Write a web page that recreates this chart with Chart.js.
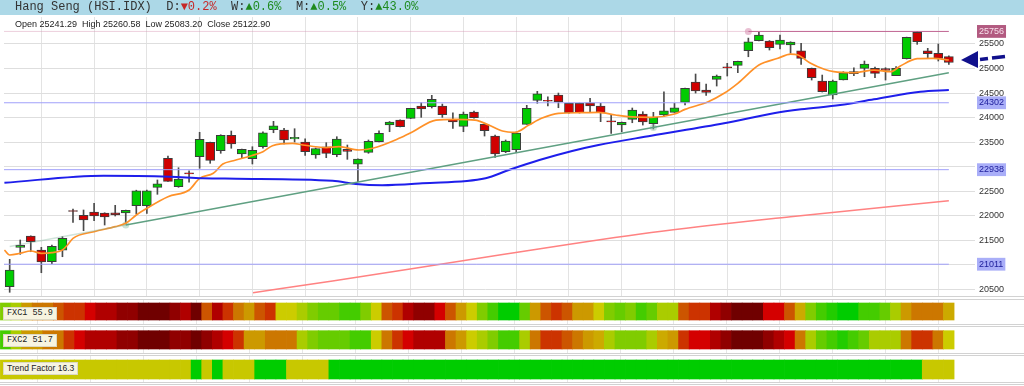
<!DOCTYPE html>
<html><head><meta charset="utf-8">
<script src="https://cdn.jsdelivr.net/npm/chart.js@4.4.1/dist/chart.umd.min.js"></script>
<style>
html,body{margin:0;padding:0;background:#fff;width:1024px;height:386px;overflow:hidden;}
#wrap{position:relative;width:1024px;height:386px;}
canvas{position:absolute;left:0;}
.hdr{position:absolute;left:0;top:0;width:1024px;height:15px;background:#acd8e7;}
.hdr .t{position:absolute;left:15px;top:0;font-family:"Liberation Mono","DejaVu Sans Mono",monospace;font-size:12px;line-height:15px;color:#333;white-space:pre;}
.dn{color:#c62828;}
.up{color:#1e8a1e;}
.ohlc{position:absolute;left:15px;top:18px;font-family:"Liberation Sans",Arial,sans-serif;font-size:9px;line-height:12px;color:#222;white-space:pre;}
.hl{position:absolute;left:0;width:1024px;height:1px;background:#d2d2d2;}
.lab{position:absolute;left:3px;height:11px;line-height:11px;padding:0 3px;background:#f7f4e0;border:1px solid #dcd8c4;color:#222;white-space:pre;font-size:8.5px;}
.mono{font-family:"Liberation Mono","DejaVu Sans Mono",monospace;}
.sans{font-family:"Liberation Sans",Arial,sans-serif;}
</style>
</head><body><div id="wrap">
<canvas id="main" width="1024" height="301" style="top:0;width:1024px;height:301px"></canvas>
<div class="hdr"><span class="t">Hang Seng (HSI.IDX)  D:<span class="dn">▼0.2%</span>  W:<span class="up">▲0.6%</span>  M:<span class="up">▲0.5%</span>  Y:<span class="up">▲43.0%</span></span></div>
<div class="ohlc">Open 25241.29  High 25260.58  Low 25083.20  Close 25122.90</div>
<canvas id="s1" width="1024" height="27" style="top:298px;width:1024px;height:27px;background:#fff"></canvas>
<canvas id="s2" width="1024" height="28" style="top:326px;width:1024px;height:28px"></canvas>
<canvas id="s3" width="1024" height="28" style="top:355px;width:1024px;height:28px"></canvas>
<div class="hl" style="top:296px"></div>
<div class="hl" style="top:299px"></div>
<div class="hl" style="top:324px"></div>
<div class="hl" style="top:326px"></div>
<div class="hl" style="top:353px"></div>
<div class="hl" style="top:355px"></div>
<div class="hl" style="top:382px"></div>
<div class="hl" style="top:384px"></div>
<div class="lab mono" style="top:307px">FXC1 55.9</div>
<div class="lab mono" style="top:334px">FXC2 51.7</div>
<div class="lab sans" style="top:362px">Trend Factor 16.3</div>
</div>
<script>
// ---------- DATA ----------
const candleOpen = [20553,21356,21586,21301,21063,21295,22105,22008,22075,22055,
22061,22055,22204,22204,22579,23170,22591,22874,23202,23496,
23325,23638,23257,23162,23406,23753,23747,23563,23502,23237,
23406,23243,23353,23048,23292,23508,23848,23950,23985,24236,
24222,24236,23965,23822,24113,23863,23624,23304,23345,23863,
24352,24354,24460,24291,24291,24303,24236,23934,23848,23965,
24073,23875,24052,24107,24311,24725,24562,24780,25034,25065,
25363,25566,25560,25493,25479,25363,25004,24745,24460,24766,
24894,25004,25004,25000,24853,25200,25740,25363,25310,25241.29];
const candleHigh = [21111,21505,21590,21356,21403,21572,22137,22116,22253,22060,
22212,22115,22520,22520,22728,23217,22978,22917,23700,23500,
23650,23726,23360,23406,23712,23924,23781,23773,23569,23380,
23488,23610,23441,23160,23543,23732,23920,23955,24190,24303,
24454,24276,24099,24113,24134,23870,23645,23543,23706,24250,
24535,24425,24500,24297,24297,24393,24291,24052,23910,24195,
24120,24107,24527,24291,24600,24888,24684,24868,25106,25150,
25620,25745,25570,25683,25545,25513,25010,24867,24765,24935,
25016,25153,25031,25016,25037,25640,25756,25412,25499,25260.58];
const candleLow = [20439,21213,21266,20838,21022,21164,21865,21694,21898,21810,
21994,21831,22035,22049,22436,22701,22579,22681,22966,23068,
23272,23374,23176,23054,23374,23691,23461,23502,23231,23170,
23182,23202,23149,22693,23272,23502,23712,23808,23980,24005,
24195,24005,23781,23712,23990,23624,23190,23284,23284,23863,
24291,24236,24201,24092,24092,24120,23916,23679,23712,23895,
23848,23767,24018,24107,24256,24500,24454,24643,24847,24915,
25240,25560,25377,25397,25310,25086,24765,24521,24378,24766,
24853,24833,24812,24765,24853,25193,25493,25208,25153,25083.20];
const candleClose = [20893,21397,21470,21056,21376,21539,22085,21912,21994,21973,
22014,22110,22509,22509,22652,22701,22748,22854,23557,23129,
23638,23461,23353,23333,23691,23834,23543,23598,23304,23366,
23272,23563,23312,23156,23516,23679,23910,23814,24189,24175,
24372,24058,23910,24073,23997,23732,23257,23522,23685,24189,
24486,24334,24317,24099,24099,24236,24099,23914,23903,24154,
23910,24005,24140,24201,24596,24541,24515,24847,25014,25147,
25546,25683,25424,25581,25540,25208,24812,24527,24745,24914,
24935,25092,24902,24960,25004,25636,25546,25302,25208,25122.90];

// short moving average (orange), read at candle positions
const fastMaIdx = [-0.5,0,1,2,3,4,5,5.4,6,8,10,11,12,13,15,17,18,19.3,20.2,21.2,22.9,24,24.9,26.8,27.8,29,30,31.2,33.1,34.4,36.9,38.2,40.4,42.2,44.1,45.4,46.7,47.9,49.2,50.4,52,54.2,55.8,57.4,58.6,60.8,63,64,66.2,67.7,69,71,72.8,74,74.7,75.9,77.2,78.1,80,81.9,83.5,84.4,86,87.5,89];
const fastMaVal = [21300,21199,21234,21281,21234,21246,21301,21382,21539,21674,21776,21845,22014,22151,22387,22524,22762,22864,23054,23121,23223,23304,23427,23475,23441,23406,23386,23406,23339,23374,23577,23712,23950,23965,23950,23848,23726,23700,23848,23985,24087,24099,24107,24052,24018,24005,24073,24168,24323,24494,24698,25071,25208,25295,25275,25106,24984,24935,24914,24969,24935,25051,25200,25208,25174];
// medium moving average (blue)
const midMaIdx = [-0.5,8.9,15.2,18.3,21.5,30.6,32.8,35.3,39.1,45.1,47.3,50.2,53.3,55.8,60.8,67.7,72.4,75,78.7,81.9,86.3,89];
const midMaVal = [22672,22815,22795,22762,22754,22713,22646,22620,22660,22762,22931,23135,23319,23441,23630,23883,24087,24168,24256,24372,24527,24562];
// long moving average (light red)
const slowMaIdx = [23.06,30.6,45.2,60.8,74,89];
const slowMaVal = [20431,20669,21158,21658,21980,22306];
// trend line (faint start, anchor, end)
const trendIdx = [0,11,89];
const trendVal = [21372,21810,24914];
const touchIdx = [11,61];
const touchVal = [21810,23800];
// horizontal levels
const levelValues = [24302,22938,21011];
const highLevel = 25756;
const highStartIdx = 70;
// axis ticks
const yTicks = [20500,21000,21500,22000,22500,23000,23500,24000,24500,25000,25500];
const hiddenTickLabels = [21000,23000];

// heat strips: colour level per candle (0 = weakest/red ... 15 = strongest/green)
const fxcPalette = ['#700000','#900000','#b00000','#d40000','#cc3300','#cc5500','#cc7700','#cc9900','#ccaa00','#cccc00','#aacc00','#80cc00','#66cc00','#44cc00','#22cc00','#00cc00'];
const fxc1Levels = [11,10,7,6,6,5,4,4,3,2,2,1,1,0,0,0,1,2,0,5,2,4,6,7,5,4,9,9,10,11,12,12,13,13,11,9,5,4,2,1,1,3,5,7,9,11,13,15,
15,12,7,5,4,5,7,7,9,11,12,11,13,12,10,10,5,4,4,2,1,0,0,0,3,3,5,8,11,13,14,15,15,13,13,12,10,7,6,6,6,8];
const fxc2Levels = [13,10,7,7,6,6,4,3,2,2,2,1,1,0,0,0,1,1,0,1,2,3,4,7,7,6,6,6,10,11,12,12,12,13,13,9,6,4,3,2,2,2,6,7,9,10,11,13,
13,10,6,4,4,5,6,7,8,10,11,11,11,10,8,7,4,3,3,2,1,0,0,0,1,2,3,6,10,12,13,14,13,12,10,10,10,6,4,4,6,9];
const trendPalette = ['#c8c800','#00cc00'];
const trendFactor = [0,0,0,0,0,0,0,0,0,0,0,0,0,0,0,0,0,0,1,0,1,0,0,0,1,1,1,0,0,0,0,
1,1,1,1,1,1,1,1,1,1,1,1,1,1,1,1,1,1,1,1,1,1,1,1,1,1,1,1,1,1,1,1,1,1,1,1,1,1,1,1,1,1,1,1,1,1,1,1,1,1,1,1,1,1,1,1,0,0,0];

// ---------- LAYOUT / STYLE ----------
const X_MIN = -0.538, X_MAX = 90.72;
const Y_MIN = 20343, Y_MAX = 26050;
const AXIS_W = 57;
const CELL_W = 10.65;
const lastIdx = candleClose.length - 1;
const gridIdx = [];
for (let k = 3; k <= lastIdx; k += 5) gridIdx.push(k);

function xScale(gridColor) {
  return {
    type: 'linear', min: X_MIN, max: X_MAX, offset: false,
    afterBuildTicks: s => { s.ticks = gridIdx.map(v => ({ value: v })); },
    afterFit: s => { s.height = 0; s.paddingLeft = 0; s.paddingRight = 0; },
    ticks: { display: false },
    grid: { color: gridColor, drawTicks: false, offset: false },
    border: { display: false }
  };
}
function fixV(s) { s.width = AXIS_W; s.paddingTop = 0; s.paddingBottom = 0; }

const pts = (ix, vs) => ix.map((x, i) => ({ x: x, y: vs[i] }));
const isUp = candleClose.map((c, i) => c >= candleOpen[i]);
const specialTicks = [highLevel].concat(levelValues);
const axisTicks = yTicks.concat(specialTicks).sort((a, b) => a - b);

const arrowPlugin = {
  id: 'arrow',
  afterDraw(chart) {
    const { ctx, chartArea } = chart;
    const y = chart.scales.y.getPixelForValue(fastMaVal[fastMaVal.length - 1]);
    const x0 = chartArea.right - 6;
    ctx.save();
    ctx.fillStyle = '#10108c';
    ctx.beginPath();
    ctx.moveTo(x0, y);
    ctx.lineTo(x0 + 17, y - 9);
    ctx.lineTo(x0 + 17, y + 8);
    ctx.closePath();
    ctx.fill();
    ctx.strokeStyle = '#10108c';
    ctx.lineWidth = 3.5;
    ctx.beginPath();
    ctx.moveTo(x0 + 19, y - 0.5);
    ctx.lineTo(x0 + 27, y - 1.5);
    ctx.moveTo(x0 + 31, y - 2);
    ctx.lineTo(x0 + 44, y - 3.5);
    ctx.stroke();
    ctx.restore();
  }
};

const lineBase = { type: 'line', pointRadius: 0, fill: false, order: 0 };

new Chart(document.getElementById('main'), {
  type: 'bar',
  data: {
    datasets: [
      Object.assign({}, lineBase, { data: [{x: X_MIN, y: highLevel}, {x: highStartIdx, y: highLevel}], borderColor: 'rgba(215,150,180,0.45)', borderWidth: 1 }),
      Object.assign({}, lineBase, { data: [{x: highStartIdx, y: highLevel}, {x: lastIdx, y: highLevel}], borderColor: 'rgb(192,100,145)', borderWidth: 1 }),
      ...levelValues.map(v => Object.assign({}, lineBase, { data: [{x: X_MIN, y: v}, {x: lastIdx, y: v}], borderColor: 'rgb(160,160,250)', borderWidth: 1 })),
      Object.assign({}, lineBase, { data: pts(slowMaIdx, slowMaVal), borderColor: 'rgb(255,130,130)', borderWidth: 1.6, cubicInterpolationMode: 'monotone' }),
      Object.assign({}, lineBase, { data: pts(trendIdx, trendVal), borderWidth: 1.6,
        borderColor: 'rgb(95,160,130)',
        segment: { borderColor: c => c.p0DataIndex === 0 ? 'rgba(120,175,150,0.35)' : 'rgb(95,160,130)' } }),
      Object.assign({}, lineBase, { data: pts(midMaIdx, midMaVal), borderColor: 'rgb(30,30,235)', borderWidth: 2, cubicInterpolationMode: 'monotone' }),
      Object.assign({}, lineBase, { data: pts(fastMaIdx, fastMaVal), borderColor: 'rgb(255,145,40)', borderWidth: 1.7, cubicInterpolationMode: 'monotone' }),
      Object.assign({}, lineBase, { data: pts(touchIdx, touchVal), showLine: false, pointRadius: 3.5, pointBackgroundColor: 'rgba(140,190,165,0.45)', pointBorderWidth: 0 }),
      Object.assign({}, lineBase, { data: [{x: highStartIdx, y: highLevel}], showLine: false, pointRadius: 3.5, pointBackgroundColor: 'rgba(215,140,175,0.55)', pointBorderWidth: 0 }),
      {
        type: 'bar', order: 1, grouped: false,
        data: candleOpen.map((o, i) => ({ x: i, y: [o, candleClose[i]] })),
        backgroundColor: isUp.map(u => u ? '#00cc00' : '#d00000'),
        borderColor: '#3c3c3c', borderWidth: 1, borderSkipped: false, barThickness: 9
      },
      {
        type: 'bar', order: 2, grouped: false,
        data: candleLow.map((l, i) => ({ x: i, y: [l, candleHigh[i]] })),
        backgroundColor: '#4a4a4a', borderWidth: 0, barThickness: 1
      }
    ]
  },
  options: {
    responsive: false, animation: false, devicePixelRatio: 1,
    layout: { padding: { top: 17, bottom: 1, left: 0, right: 0 } },
    plugins: { legend: { display: false }, tooltip: { enabled: false } },
    scales: {
      x: xScale('#e3e3e3'),
      y: {
        position: 'right', min: Y_MIN, max: Y_MAX,
        afterBuildTicks: s => { s.ticks = axisTicks.map(v => ({ value: v })); },
        afterFit: fixV,
        border: { display: false },
        grid: {
          color: c => (c.tick && specialTicks.includes(c.tick.value)) ? 'rgba(0,0,0,0)' : '#dedede',
          tickLength: 8, drawTicks: true
        },
        ticks: {
          autoSkip: false, padding: 4,
          font: { family: 'Liberation Sans', size: 9 },
          color: c => {
            const v = c.tick.value;
            if (v === highLevel) return '#f6e0ea';
            if (levelValues.includes(v)) return '#1c1c9a';
            return '#333333';
          },
          callback: v => hiddenTickLabels.includes(v) ? '' : String(v),
          showLabelBackdrop: c => specialTicks.includes(c.tick.value),
          backdropColor: c => c.tick.value === highLevel ? '#b25a80' : (levelValues.includes(c.tick.value) ? '#a9aef8' : 'rgba(0,0,0,0)'),
          backdropPadding: { x: 2, y: 1 }
        }
      }
    }
  },
  plugins: [arrowPlugin]
});

function stripChart(id, levels, palette, lo, hi) {
  new Chart(document.getElementById(id), {
    type: 'bar',
    data: { datasets: [{
      data: levels.map((l, i) => ({ x: i, y: [lo, hi] })),
      backgroundColor: levels.map(l => palette[l]),
      borderWidth: 0, barThickness: CELL_W, grouped: false
    }] },
    options: {
      responsive: false, animation: false, devicePixelRatio: 1,
      layout: { padding: { top: 1, bottom: 1, left: 0, right: 0 } },
      plugins: { legend: { display: false }, tooltip: { enabled: false } },
      scales: {
        x: xScale('#e6e6e6'),
        y: { position: 'right', min: 0, max: 1, afterFit: fixV,
             ticks: { display: false }, grid: { display: false }, border: { display: false } }
      }
    }
  });
}
stripChart('s1', fxc1Levels, fxcPalette, 0.16, 0.84);
stripChart('s2', fxc2Levels, fxcPalette, 0.154, 0.858);
stripChart('s3', trendFactor, trendPalette, 0.115, 0.846);
</script>
</body></html>
